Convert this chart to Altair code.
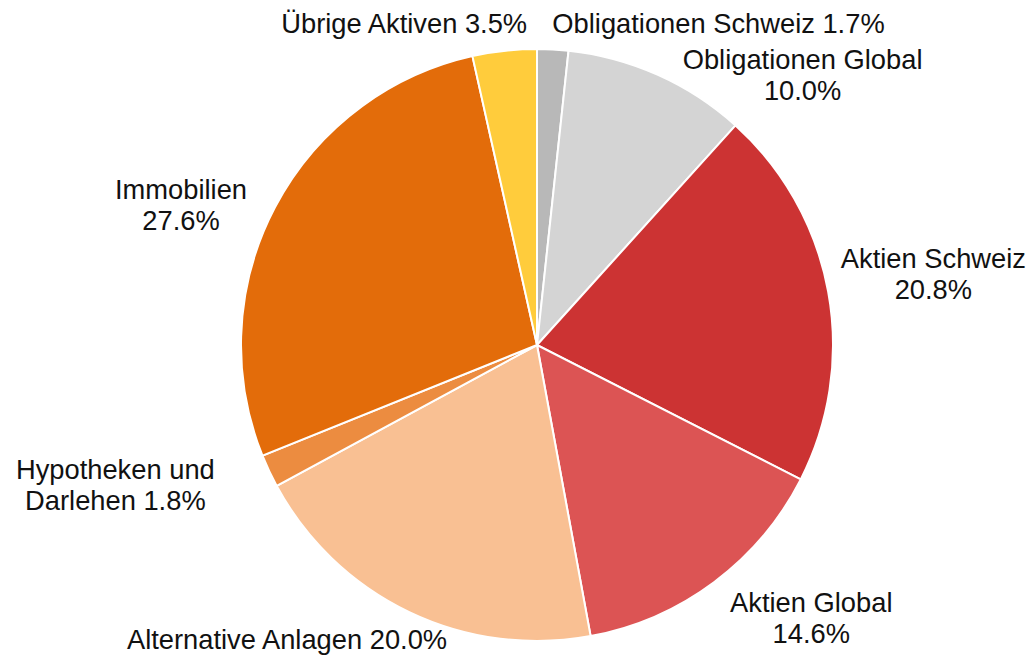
import altair as alt
import pandas as pd

categories = ["Obligationen Schweiz", "Obligationen Global", "Aktien Schweiz", "Aktien Global",
              "Alternative Anlagen", "Hypotheken und Darlehen", "Immobilien", "Übrige Aktiven"]
values = [1.7, 10.0, 20.8, 14.6, 20.0, 1.8, 27.6, 3.5]
labels = ["Obligationen Schweiz 1.7%", "Obligationen Global\n10.0%", "Aktien Schweiz\n20.8%",
          "Aktien Global\n14.6%", "Alternative Anlagen 20.0%", "Hypotheken und\nDarlehen 1.8%",
          "Immobilien\n27.6%", "Übrige Aktiven 3.5%"]
colors = ["#b8b8b8", "#d4d4d4", "#cc3333", "#dc5454", "#f9c093", "#ec8c40", "#e36c0a", "#ffcc3c"]

df = pd.DataFrame({"category": categories, "value": values, "label": labels,
                   "idx": list(range(len(categories)))})

CX, CY, R = 529, 337, 296
FONT = "Liberation Sans"

base = alt.Chart(df).encode(
    theta=alt.Theta("value:Q", stack=True),
    order=alt.Order("idx:Q"),
)

pie = base.mark_arc(outerRadius=R, stroke="white", strokeWidth=2).encode(
    x=alt.value(CX), y=alt.value(CY),
    color=alt.Color("category:N", scale=alt.Scale(domain=categories, range=colors), legend=None),
)

# label placement: (category, radius, align, dx, dy)
placements = [
    ("Obligationen Schweiz", 325, "left", -2, 5),
    ("Obligationen Global", 300, "center", 143, -10),
    ("Aktien Schweiz", 400, "center", 3, -13),
    ("Aktien Global", 340, "center", 71, -14),
    ("Alternative Anlagen", 336, "center", -105, -7),
    ("Hypotheken und Darlehen", 340, "center", -114, -19),
    ("Immobilien", 340, "center", -55, 4),
    ("Übrige Aktiven", 327, "right", 26, 5),
]

layers = [pie]
for cat, rad, align, dx, dy in placements:
    layers.append(
        base.mark_text(radius=rad, align=align, baseline="middle", dx=dx, dy=dy,
                       font=FONT, fontSize=27.3, lineBreak="\n", lineHeight=31, color="#111111").encode(
            x=alt.value(CX), y=alt.value(CY),
            text=alt.condition(alt.datum.category == cat, alt.Text("label:N"), alt.value("")),
        )
    )

chart = alt.layer(*layers).properties(
    width=1020, height=647,
    autosize=alt.AutoSizeParams(type="none"),
    padding=0,
).configure_view(stroke=None)

chart.save("out.html", embed_options={"renderer": "svg", "actions": False})
